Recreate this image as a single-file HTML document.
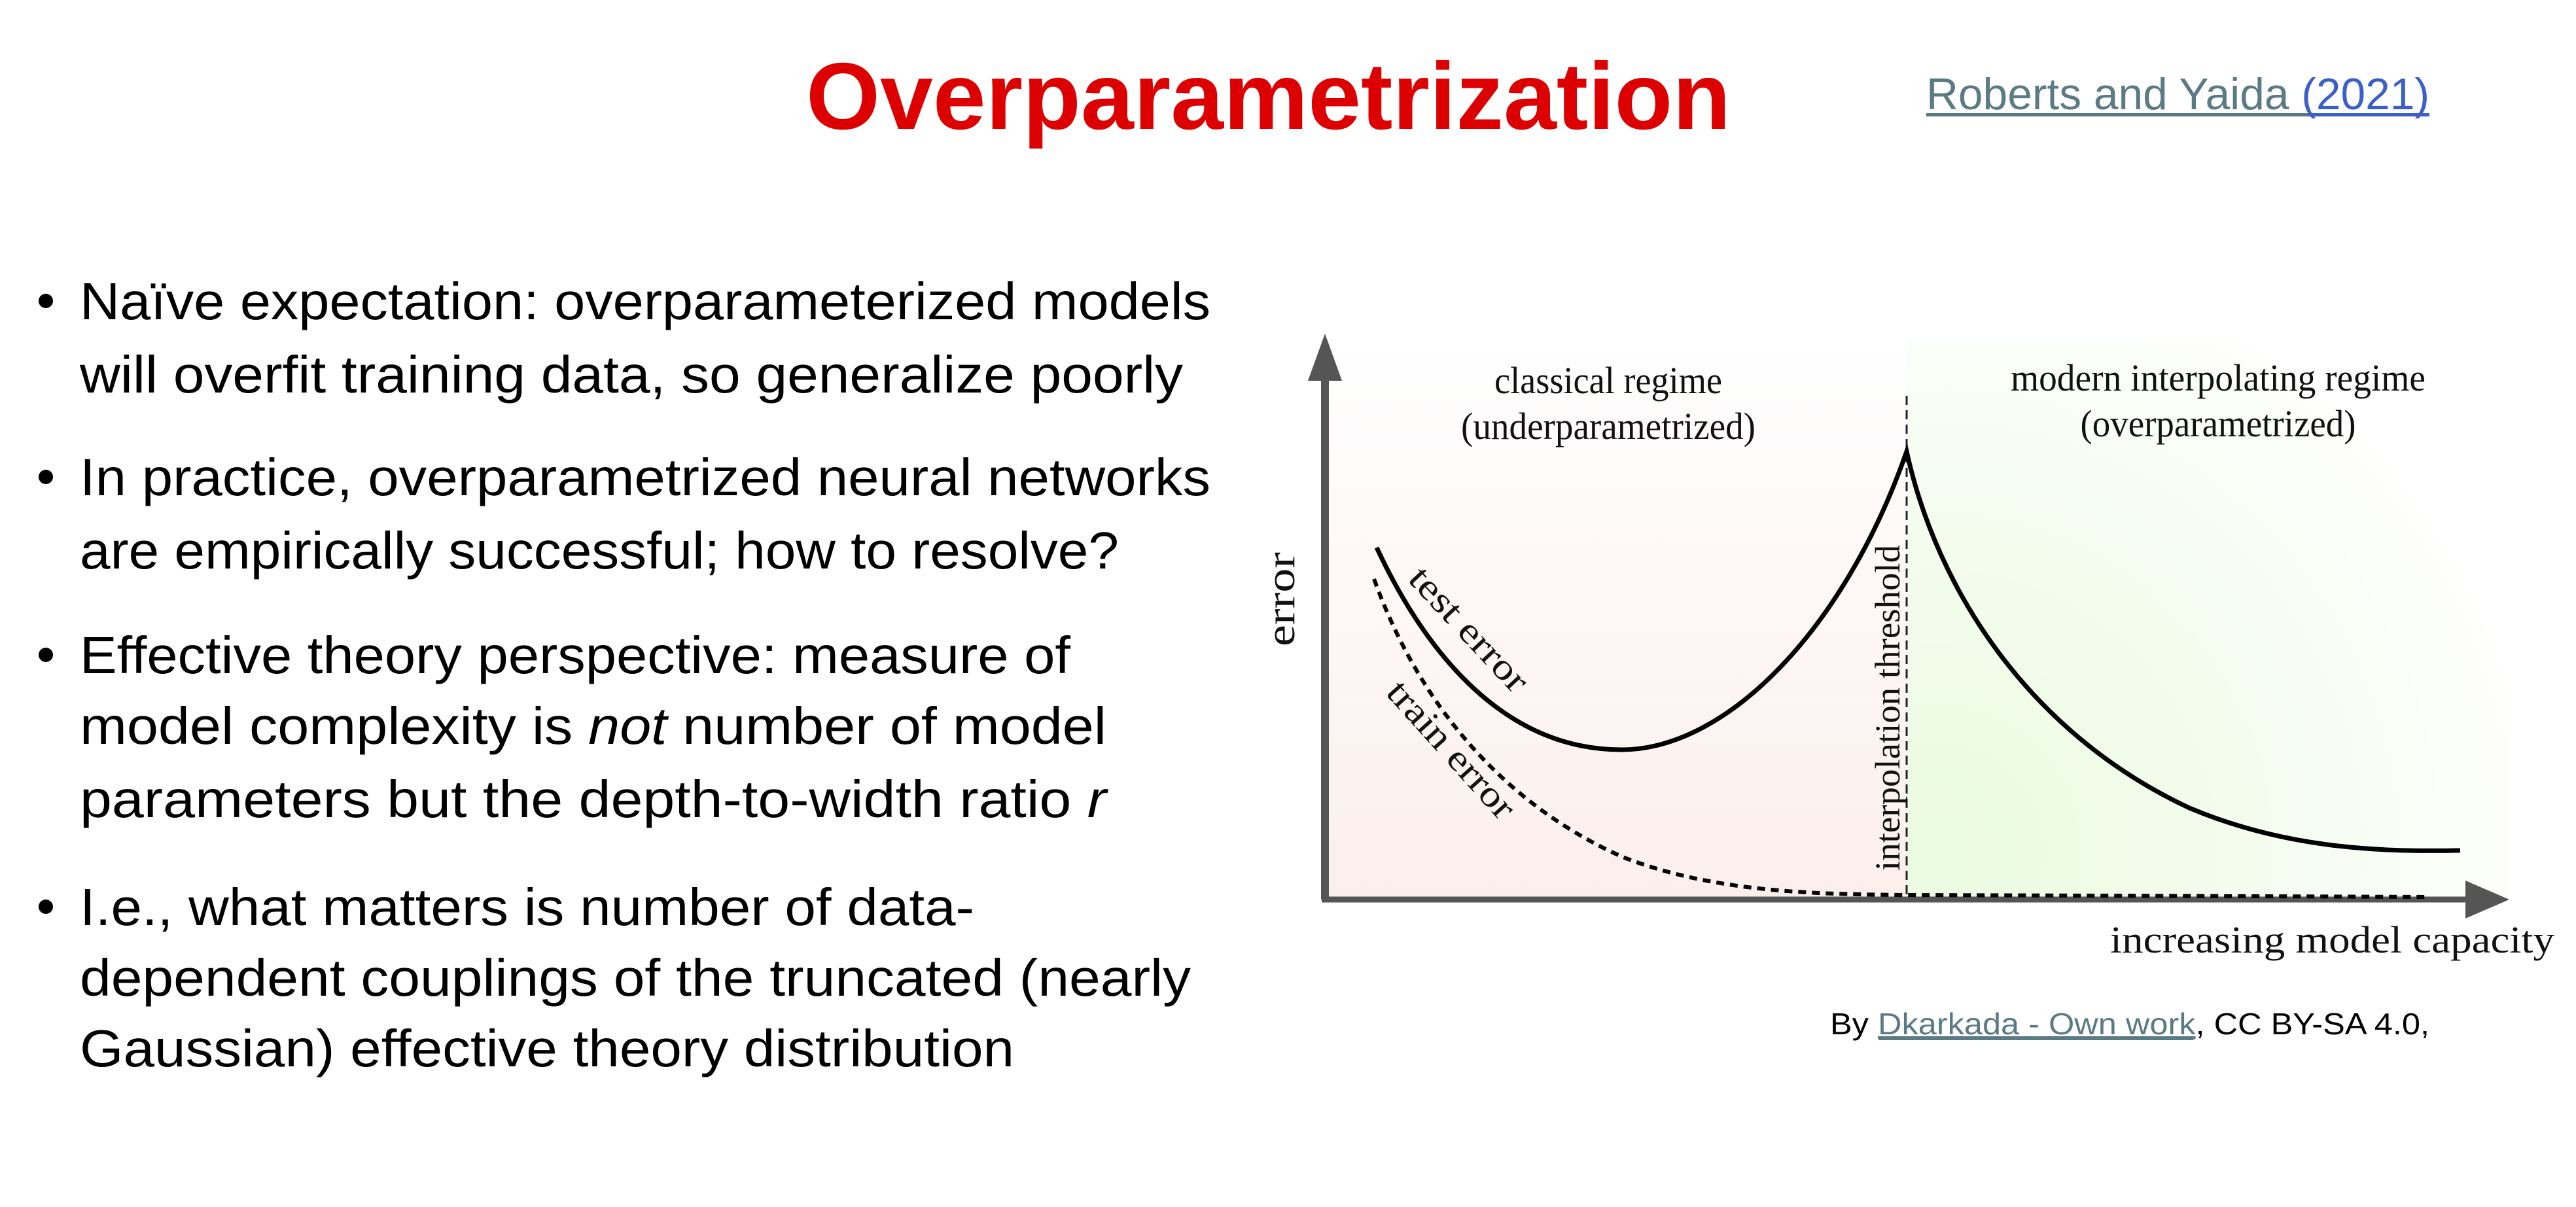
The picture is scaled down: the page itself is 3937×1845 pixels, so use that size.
<!DOCTYPE html>
<html><head><meta charset="utf-8"><style>html,body{margin:0;padding:0;background:#fff}svg{display:block}</style></head>
<body>
<svg width="3937" height="1845" viewBox="0 0 3937 1845" xmlns="http://www.w3.org/2000/svg">
<defs>
<linearGradient id="pink" x1="0" y1="0" x2="0" y2="1">
<stop offset="0" stop-color="#fff" stop-opacity="1"/>
<stop offset="1" stop-color="#fbefec"/>
</linearGradient>
<radialGradient id="green" cx="2960" cy="1300" r="950" gradientUnits="userSpaceOnUse">
<stop offset="0" stop-color="#eafbe0"/>
<stop offset="0.5" stop-color="#f4fcee"/>
<stop offset="1" stop-color="#ffffff"/>
</radialGradient>
</defs>
<rect width="3937" height="1845" fill="#fff"/>

<!-- Title -->
<text x="1232" y="197" font-family="Liberation Sans, sans-serif" font-weight="bold" font-size="145" fill="#dd0000" textLength="1413" lengthAdjust="spacingAndGlyphs">Overparametrization</text>
<text x="2944" y="167" font-family="Liberation Sans, sans-serif" font-size="68" textLength="769" lengthAdjust="spacingAndGlyphs"><tspan fill="#5a7a84">Roberts and Yaida </tspan><tspan fill="#3a5fc8">(2021)</tspan></text>
<rect x="2944" y="173" width="584" height="5" fill="#5a7a84"/>
<rect x="3528" y="173" width="185" height="5" fill="#3a5fc8"/>

<!-- Bullets -->
<g font-family="Liberation Sans, sans-serif" font-size="80" fill="#000">
<circle cx="70" cy="460" r="11"/>
<text x="122" y="488" textLength="1728" lengthAdjust="spacingAndGlyphs">Naïve expectation: overparameterized models</text>
<text x="122" y="600" textLength="1686" lengthAdjust="spacingAndGlyphs">will overfit training data, so generalize poorly</text>
<circle cx="70" cy="729" r="11"/>
<text x="122" y="757" textLength="1728" lengthAdjust="spacingAndGlyphs">In practice, overparametrized neural networks</text>
<text x="122" y="869" textLength="1588" lengthAdjust="spacingAndGlyphs">are empirically successful; how to resolve?</text>
<circle cx="70" cy="1001" r="11"/>
<text x="122" y="1029" textLength="1514" lengthAdjust="spacingAndGlyphs">Effective theory perspective: measure of</text>
<text x="122" y="1137" textLength="1569" lengthAdjust="spacingAndGlyphs">model complexity is <tspan font-style="italic">not</tspan> number of model</text>
<text x="122" y="1249" textLength="1569" lengthAdjust="spacingAndGlyphs">parameters but the depth-to-width ratio <tspan font-style="italic">r</tspan></text>
<circle cx="70" cy="1386" r="11"/>
<text x="122" y="1414" textLength="1367" lengthAdjust="spacingAndGlyphs">I.e., what matters is number of data-</text>
<text x="122" y="1522" textLength="1698" lengthAdjust="spacingAndGlyphs">dependent couplings of the truncated (nearly</text>
<text x="122" y="1630" textLength="1428" lengthAdjust="spacingAndGlyphs">Gaussian) effective theory distribution</text>
</g>

<!-- Chart backgrounds -->
<rect x="2030" y="520" width="884" height="852" fill="url(#pink)"/>
<rect x="2914" y="520" width="920" height="852" fill="url(#green)"/>

<!-- threshold -->
<line x1="2914" y1="605" x2="2914" y2="1372" stroke="#222" stroke-width="3" stroke-dasharray="14 8"/>

<!-- axes -->
<line x1="2025" y1="1375" x2="2025" y2="570" stroke="#555" stroke-width="12"/>
<polygon points="2025,510 1999,582 2051,582" fill="#555"/>
<line x1="2020" y1="1375" x2="3775" y2="1375" stroke="#555" stroke-width="9"/>
<polygon points="3835,1375 3768,1346 3768,1404" fill="#555"/>

<!-- test error -->
<path d="M2104,837 C2180,1000 2300,1146 2478,1146 C2640,1146 2820,960 2914,690 C2960,900 3100,1120 3346,1235 C3500,1300 3650,1302 3760,1300" fill="none" stroke="#000" stroke-width="7"/>
<!-- train error -->
<path d="M2100,885 C2170,1080 2300,1230 2480,1310 C2620,1365 2780,1367 2914,1368 L3713,1371" fill="none" stroke="#000" stroke-width="6" stroke-dasharray="12 9"/>

<!-- chart text -->
<g font-family="Liberation Serif, serif" font-size="58" fill="#111">
<text x="2458" y="601" text-anchor="middle" textLength="348" lengthAdjust="spacingAndGlyphs">classical regime</text>
<text x="2458" y="671" text-anchor="middle" textLength="450" lengthAdjust="spacingAndGlyphs">(underparametrized)</text>
<text x="3390" y="597" text-anchor="middle" textLength="634" lengthAdjust="spacingAndGlyphs">modern interpolating regime</text>
<text x="3390" y="667" text-anchor="middle" textLength="421" lengthAdjust="spacingAndGlyphs">(overparametrized)</text>
<text x="3904" y="1456" text-anchor="end" textLength="679" lengthAdjust="spacingAndGlyphs">increasing model capacity</text>
<text transform="translate(1978,916) rotate(-90)" text-anchor="middle" font-size="62" textLength="144" lengthAdjust="spacingAndGlyphs">error</text>
<text transform="translate(2903,1082) rotate(-90)" text-anchor="middle" font-size="54" textLength="498" lengthAdjust="spacingAndGlyphs">interpolation threshold</text>
<text transform="translate(2245,962) rotate(47)" text-anchor="middle" dy="18" font-size="56" textLength="240" lengthAdjust="spacingAndGlyphs">test error</text>
<text transform="translate(2218,1146) rotate(48)" text-anchor="middle" dy="18" font-size="56" textLength="264" lengthAdjust="spacingAndGlyphs">train error</text>
</g>

<!-- caption -->
<text x="2797" y="1581" font-family="Liberation Sans, sans-serif" font-size="46" fill="#000" textLength="916" lengthAdjust="spacingAndGlyphs">By <tspan fill="#5a7a84" text-decoration="underline">Dkarkada - Own work</tspan>, CC BY-SA 4.0,</text>
<rect x="2872" y="1587" width="480" height="3" fill="#5a7a84"/>
</svg>
</body></html>
